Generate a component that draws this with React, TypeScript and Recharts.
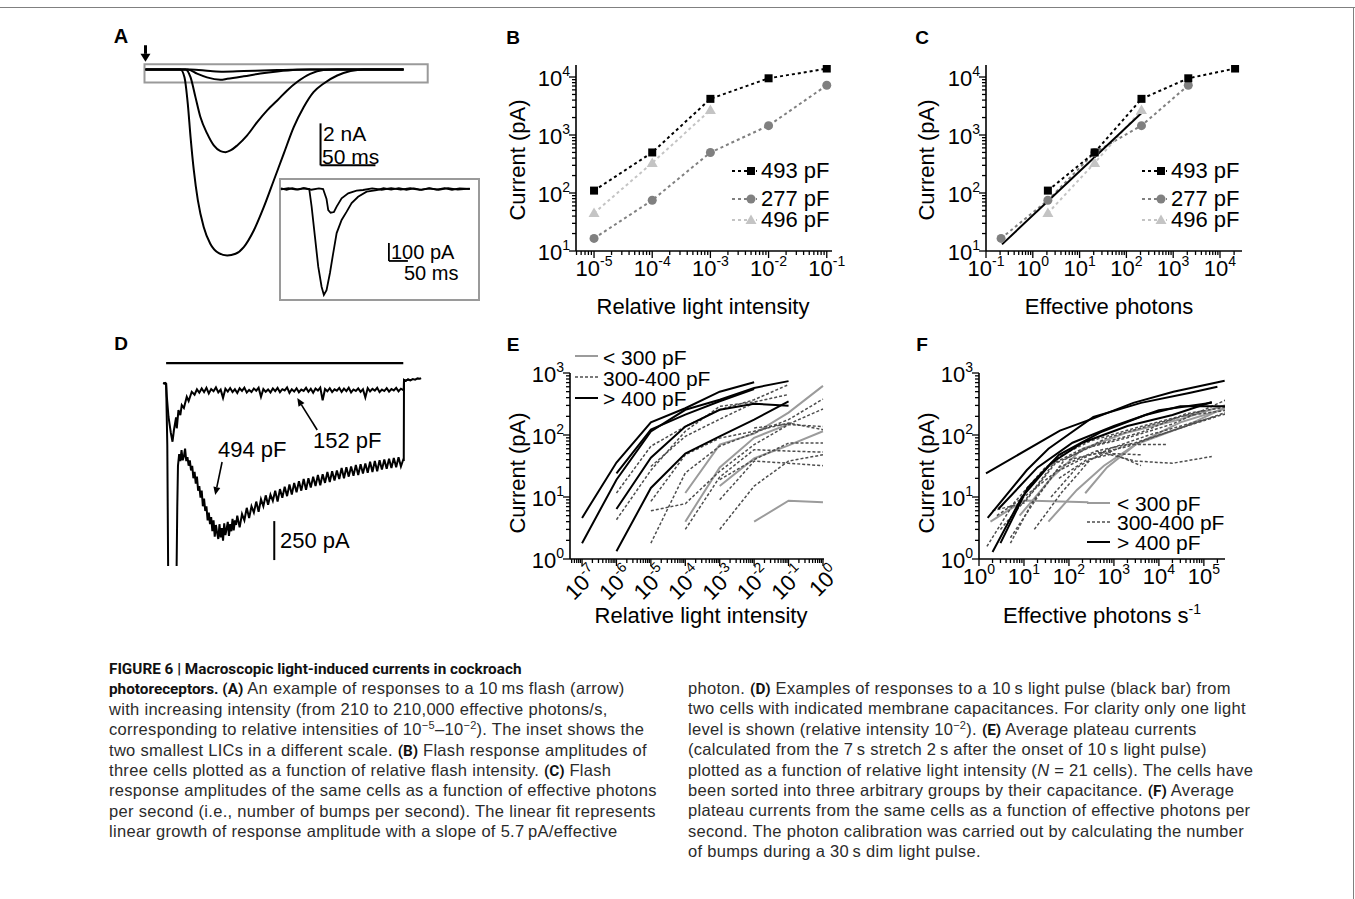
import React from "react";
import { LineChart, Line, XAxis, YAxis, ReferenceLine, ReferenceArea } from "recharts";

const FONT = "'Liberation Sans', Arial, Helvetica, sans-serif";
const CAP_FONT = "'Liberation Sans', Arial, sans-serif";
const CAP_BOLD = "Roboto, 'Liberation Sans', Arial, sans-serif";

// ---------- A: flash responses (ms, nA) ----------
const A_BIG = [[0, 0], [31.9, 0], [35.5, -0.37], [38.5, -1.63], [41, -3.2], [44, -4.8], [47.7, -6.24], [53, -7.5], [59, -8.3], [66.8, -8.75], [74.4, -8.86], [82, -8.78], [89.5, -8.46], [98.6, -7.67], [107.7, -6.56], [116.8, -5.29], [126, -4.0], [135, -2.75], [144, -1.8], [153, -1.08], [162, -0.68], [174.6, -0.29], [186.7, -0.08], [198.8, 0], [235, 0]];
const A_MED = [[0, 0], [36.4, 0], [41, -0.37], [45.5, -1.32], [50, -2.27], [56.2, -3.06], [62.2, -3.62], [68.3, -3.89], [72.9, -3.94], [77.4, -3.86], [83.5, -3.62], [92.6, -3.14], [101.7, -2.51], [110.8, -1.95], [120, -1.48], [129, -1.0], [138, -0.6], [150, -0.21], [162, -0.03], [174.6, 0], [235, 0]];
const A_SMALL = [[0, 0], [38.5, 0], [47, -0.2], [56, -0.38], [68.3, -0.49], [74.4, -0.45], [89.5, -0.33], [104.6, -0.2], [120, -0.1], [138, -0.02], [150, 0], [235, 0]];
const A_TINY = [[0, 0], [41, 0], [59, -0.08], [71, -0.11], [89.5, -0.08], [120, -0.03], [150, 0], [235, 0]];
// inset (ms, pA)
const INSET_BIG = [[0, 3], [15, -4], [30, 5], [45, -3], [60, 4], [74.5, 0], [80.8, -98], [89.5, -265], [98.2, -432], [107, -543], [113, -589], [120, -562], [129, -467], [137.6, -356], [146.6, -245], [159.7, -172], [173, -126], [186, -78], [203, -43], [225.5, -15], [252, -6], [270, 4], [290, -3], [310, 5], [330, -4], [350, 3], [370, -5], [390, 4], [410, -3], [430, 5], [450, -4], [470, 3], [497, 0]];
const INSET_SMALL = [[0, -2], [20, 4], [40, -3], [60, 5], [80, -4], [100, 3], [111, 0], [120, -56], [124.5, -117], [130.8, -132], [139.5, -128], [146.6, -98], [159.7, -52], [177, -24], [199, -9.5], [216, -5.6], [240, 3], [265, -4], [290, 5], [315, -3], [340, 4], [365, -5], [390, 3], [415, -4], [440, 5], [465, -3], [497, 2]];

// ---------- B / C: flash amplitudes ----------
const B_INTENSITY = [1e-5, 1e-4, 1e-3, 1e-2, 1e-1];
const B_493 = [110, 500, 4200, 9500, 14000];
const B_277 = [16.5, 75, 500, 1450, 7200];
const B_496 = [45, 330, 2700];
const C_PHOTONS_493 = [2.1, 21, 210, 2100, 21000];
const C_PHOTONS_277 = [0.21, 2.1, 21, 210, 2100];
const C_PHOTONS_496 = [2.1, 21, 210];
const C_FIT_X = [0.22, 240];
const C_FIT_Y = [13, 2650];

// ---------- D: 10 s pulse responses (s, pA) ----------
const D_152 = [[-0.12, 2], [-0.08, -3], [-0.03, 1], [0, -5], [0.03, -86], [0.1, -216], [0.2, -320], [0.27, -376], [0.33, -301], [0.42, -220], [0.45, -290], [0.52, -173], [0.6, -205], [0.66, -141], [0.75, -160], [0.87, -88], [0.95, -115], [1.08, -56], [1.2, -75],
  [1.3, -40], [1.4, -62], [1.5, -35], [1.6, -58], [1.7, -30], [1.8, -66], [1.9, -38], [2.0, -52], [2.1, -28], [2.2, -60], [2.3, -42], [2.4, -95], [2.5, -36], [2.6, -55], [2.7, -32], [2.8, -58], [2.9, -40], [3.0, -64], [3.1, -33], [3.2, -50], [3.3, -29], [3.4, -61], [3.5, -44], [3.6, -57], [3.7, -35], [3.8, -49], [3.9, -30], [4.0, -88], [4.1, -38], [4.2, -56], [4.3, -41], [4.4, -60], [4.5, -34], [4.6, -52], [4.7, -31], [4.8, -58], [4.9, -39], [5.0, -47], [5.1, -28], [5.2, -63], [5.3, -40], [5.4, -54], [5.5, -33], [5.6, -59], [5.7, -42], [5.8, -50], [5.9, -30], [6.0, -56], [6.1, -37], [6.2, -62], [6.3, -35], [6.4, -48], [6.5, -29], [6.6, -110], [6.7, -38], [6.8, -53], [6.9, -33], [7.0, -58], [7.1, -40], [7.2, -49], [7.3, -31], [7.4, -57], [7.5, -36], [7.6, -52], [7.7, -30], [7.8, -60], [7.9, -41], [8.0, -50], [8.1, -34], [8.2, -56], [8.3, -39], [8.4, -92], [8.5, -32], [8.6, -54], [8.7, -37], [8.8, -48], [8.9, -30], [9.0, -58], [9.1, -42], [9.2, -51], [9.3, -33], [9.4, -55], [9.5, -38], [9.6, -47], [9.7, -31], [9.8, -53], [9.9, -36], [10.0, -45],
  [10.02, -40], [10.03, 20], [10.1, 14], [10.2, 24], [10.3, 17], [10.4, 26], [10.5, 22], [10.6, 30], [10.7, 28], [10.75, 32]];
const D_494 = [[-0.12, 0], [-0.05, -3], [0, -5], [0.05, -400], [0.1, -1500], [0.42, -1500], [0.47, -800],
  [0.5, -530], [0.55, -455], [0.6, -500], [0.65, -430], [0.7, -495], [0.75, -470], [0.8, -420], [0.85, -500], [0.9, -475], [0.95, -530], [1.0, -495], [1.05, -560], [1.1, -530], [1.15, -610], [1.2, -570], [1.25, -645], [1.3, -600], [1.35, -690], [1.4, -660], [1.45, -735], [1.5, -690], [1.55, -790], [1.6, -740], [1.65, -820], [1.7, -790], [1.75, -880], [1.8, -830], [1.85, -905], [1.9, -860], [1.95, -950], [2.0, -880], [2.05, -985], [2.1, -910], [2.15, -960], [2.2, -1000], [2.25, -905], [2.3, -990], [2.35, -930], [2.4, -1010], [2.45, -900], [2.5, -975], [2.55, -935], [2.6, -890], [2.65, -980], [2.7, -905], [2.75, -950], [2.8, -870], [2.85, -945], [2.9, -880], [2.95, -910], [3.0, -850], [3.1, -925], [3.2, -840], [3.3, -880], [3.4, -800], [3.5, -865], [3.6, -790], [3.7, -830], [3.8, -760], [3.9, -825], [4.0, -745], [4.1, -790], [4.2, -720], [4.3, -780], [4.4, -715], [4.5, -755], [4.6, -690], [4.7, -760], [4.8, -680], [4.9, -735], [5.0, -665], [5.1, -725], [5.2, -650], [5.3, -715], [5.4, -640], [5.5, -700], [5.6, -630], [5.7, -690], [5.8, -615], [5.9, -685], [6.0, -610], [6.1, -670], [6.2, -600], [6.3, -660], [6.4, -590], [6.5, -655], [6.6, -585], [6.7, -640], [6.8, -570], [6.9, -635], [7.0, -565], [7.1, -625], [7.2, -560], [7.3, -615], [7.4, -545], [7.5, -610], [7.6, -540], [7.7, -600], [7.8, -535], [7.9, -595], [8.0, -525], [8.1, -590], [8.2, -520], [8.3, -580], [8.4, -515], [8.5, -575], [8.6, -505], [8.7, -570], [8.8, -500], [8.9, -565], [9.0, -495], [9.1, -555], [9.2, -490], [9.3, -550], [9.4, -485], [9.5, -545], [9.6, -480], [9.7, -540], [9.8, -475], [9.9, -535], [10.0, -490],
  [10.02, -500], [10.03, 20], [10.1, 16], [10.2, 22], [10.3, 18]];

// ---------- E: plateau current vs relative intensity ----------
const E_INTENSITY = [1e-7, 1e-6, 1e-5, 1e-4, 1e-3, 1e-2, 1e-1, 1];
const E_K1 = [4.6, 36, 160, 270, 500, 710, null, null];
const E_K2 = [1.8, 19, 114, 255, 370, 575, 740, null];
const E_K3 = [null, 24, 122, 213, 350, 550, null, null];
const E_K4 = [null, 6.4, 43, 137, 255, 320, 297, null];
const E_K5 = [null, 1.33, 14, 50, 95, 177, 350, null];
const E_G1 = [null, null, null, 11.6, 70, 105, 230, 620];
const E_G2 = [null, null, null, 4, 30, 90, 150, null];
const E_G3 = [null, null, null, null, 15, 42, 68, 115];
const E_G4 = [null, null, null, null, null, 4, 8.7, 8.2];
const E_D1 = [null, 11.6, 66, 137, 255, 370, 650, null];
const E_D2 = [null, 4.3, 27, 115, 290, 340, 450, null];
const E_D3 = [null, null, 8.5, 48, 89, 115, 156, 122];
const E_D4 = [null, null, 6, 7.8, 26, 70, 147, 137];
const E_D5 = [null, null, 1.8, 24.5, 66, 108, 177, 380];
const E_D6 = [null, null, null, 3, 21, 58, 55, 53];
const E_D7 = [null, null, null, null, 3, 15, 38, 48];
const E_D8 = [null, null, null, null, 9, 38, 35, 32];
const E_D9 = [null, null, null, null, 19, 40, 74, 74];
const E_D10 = [null, null, 31, 95, 180, 330, null, null];
const E_D11 = [null, null, null, null, null, 130, 150, 263];

// ---------- F: plateau current vs effective photons/s ----------
const F_K1 = [[1.43, 24], [63, 118], [350, 185], [2700, 330], [21000, 500], [290000, 750]];
const F_K2 = [[1.56, 4.6], [11.5, 27], [35, 60], [350, 195], [4000, 330], [50000, 480], [200000, 600]];
const F_K3 = [[2, 1.3], [9, 10], [40, 35], [200, 75], [2000, 140], [20000, 210], [150000, 340]];
const F_K4 = [[3, 1.8], [12, 14], [60, 48], [500, 110], [5000, 210], [30000, 290], [300000, 290]];
const F_K5 = [[2.7, 6.4], [20, 30], [120, 75], [1000, 140], [10000, 250], [150000, 330]];
const F_G1 = [[35, 4], [150, 13], [600, 32], [3000, 70], [30000, 160], [500000, 300]];
const F_G2 = [[230, 11.5], [700, 30], [3000, 70], [40000, 140], [500000, 330]];
const F_G3 = [[1.8, 4], [10, 8.8], [270, 8.2]];
const F_G4 = [[8, 5], [40, 20], [200, 60], [2000, 110], [30000, 180], [500000, 340]];
const F_D1 = [[1.5, 1.6], [6, 8], [30, 30], [200, 60], [2000, 90], [20000, 150], [500000, 430]];
const F_D2 = [[2, 6], [10, 8], [50, 35], [400, 70], [4000, 110], [40000, 220], [500000, 300]];
const F_D3 = [[5, 2.2], [20, 10], [80, 40], [700, 90], [8000, 150], [100000, 250]];
const F_D4 = [[3, 3], [15, 12], [60, 45], [300, 80], [3000, 130], [30000, 200], [500000, 260]];
const F_D5 = [[17, 3], [70, 12], [300, 40], [2000, 70], [15000, 70]];
const F_D6 = [[60, 20], [250, 40], [1000, 50], [4000, 48]];
const F_D7 = [[100, 40], [700, 55], [4000, 32]];
const F_D8 = [[400, 55], [3000, 38], [20000, 35], [150000, 45]];
const F_D9 = [[5, 1.8], [15, 8], [60, 30], [400, 55], [3000, 75], [30000, 130], [500000, 260]];
const F_D10 = [[2.5, 5], [10, 10], [50, 25], [300, 48], [2000, 65], [15000, 110], [200000, 200]];
const F_D11 = [[40, 10], [150, 30], [800, 60], [6000, 100], [60000, 160], [500000, 240]];

// ---------- caption ----------
const CAPTION_LEFT = [
  "**FIGURE 6 | Macroscopic light-induced currents in cockroach**",
  "**photoreceptors. (A)** An example of responses to a 10\u2009ms flash (arrow)",
  "with increasing intensity (from 210 to 210,000 effective photons/s,",
  "corresponding to relative intensities of 10^{\u22125}\u201310^{\u22122}). The inset shows the",
  "two smallest LICs in a different scale. **(B)** Flash response amplitudes of",
  "three cells plotted as a function of relative flash intensity. **(C)** Flash",
  "response amplitudes of the same cells as a function of effective photons",
  "per second (i.e., number of bumps per second). The linear fit represents",
  "linear growth of response amplitude with a slope of 5.7\u2009pA/effective",
];
const CAPTION_RIGHT = [
  "photon. **(D)** Examples of responses to a 10\u2009s light pulse (black bar) from",
  "two cells with indicated membrane capacitances. For clarity only one light",
  "level is shown (relative intensity 10^{\u22122}). **(E)** Average plateau currents",
  "(calculated from the 7\u2009s stretch 2\u2009s after the onset of 10\u2009s light pulse)",
  "plotted as a function of relative light intensity (__N__ = 21 cells). The cells have",
  "been sorted into three arbitrary groups by their capacitance. **(F)** Average",
  "plateau currents from the same cells as a function of effective photons per",
  "second. The photon calibration was carried out by calculating the number",
  "of bumps during a 30\u2009s dim light pulse.",
];

const toXY = (xs: number[], ys: (number | null)[]) =>
  xs.map((x, i) => ({ x, y: ys[i] })).filter((d) => d.y != null);
const pairs = (p: number[][]) => p.map(([x, y]) => ({ x, y }));
const trace = (p: number[][]) => p.map(([t, i]) => ({ t, i }));

function logTicks(lo: number, hi: number) {
  const out: number[] = [];
  for (let k = Math.floor(lo); k <= Math.ceil(hi); k++)
    for (let m = 1; m < 10; m++) {
      const v = m * Math.pow(10, k);
      const l = Math.log10(v);
      if (l >= lo - 1e-9 && l <= hi + 1e-9) out.push(v);
    }
  return out;
}
const isDecade = (v: number) => Math.abs(Math.log10(v) - Math.round(Math.log10(v))) < 1e-6;

const XTick = (p: any) => {
  const { x, y, payload, rot } = p;
  const v = payload.value;
  const major = isDecade(v);
  const e = Math.round(Math.log10(v));
  return (
    <g>
      <line x1={x} x2={x} y1={y} y2={y + (major ? 7 : 4)} stroke="#000" strokeWidth={1.3} />
      {major && (rot ? (
        <text x={x + 18} y={y + 16} transform={`rotate(-45 ${x + 18} ${y + 16})`} textAnchor="end" fontSize={22} fontFamily={FONT} fill="#000">
          10<tspan dy={-10} fontSize={14}>{e}</tspan>
        </text>
      ) : (
        <text x={x} y={y + 25} textAnchor="middle" fontSize={22} fontFamily={FONT} fill="#000">
          10<tspan dy={-10} fontSize={14}>{e}</tspan>
        </text>
      ))}
    </g>
  );
};

const YTick = (p: any) => {
  const { x, y, payload } = p;
  const v = payload.value;
  const major = isDecade(v);
  const e = Math.round(Math.log10(v));
  return (
    <g>
      <line x1={x} x2={x - (major ? 7 : 4)} y1={y} y2={y} stroke="#000" strokeWidth={1.3} />
      {major && (
        <text x={x - 6} y={y + 9} textAnchor="end" fontSize={22} fontFamily={FONT} fill="#000">
          10<tspan dy={-10} fontSize={14}>{e}</tspan>
        </text>
      )}
    </g>
  );
};

function LogPanel({ x, y, w, h, xd, yd, rot, children }: any) {
  const L = 80, T = 22, R = 30, B = 70;
  return (
    <div style={{ position: "absolute", left: x - L, top: y - T }}>
      <LineChart width={w + L + R} height={h + T + B} margin={{ top: T, right: R, bottom: 0, left: 0 }}>
        <XAxis type="number" dataKey="x" scale="log" domain={[Math.pow(10, xd[0]), Math.pow(10, xd[1])]} allowDataOverflow
          ticks={logTicks(xd[0], xd[1])} interval={0} tick={<XTick rot={rot} />} tickLine={false} tickSize={0} tickMargin={0}
          height={B} axisLine={{ stroke: "#000", strokeWidth: 1.6 }} />
        <YAxis type="number" dataKey="y" scale="log" domain={[Math.pow(10, yd[0]), Math.pow(10, yd[1])]} allowDataOverflow
          ticks={logTicks(yd[0], yd[1])} interval={0} tick={<YTick />} tickLine={false} tickSize={0} tickMargin={0}
          width={L} axisLine={{ stroke: "#000", strokeWidth: 1.6 }} />
        {children}
      </LineChart>
    </div>
  );
}

const Square = (p: any) => <rect key={`s${p.index}`} x={p.cx - 4} y={p.cy - 4} width={8} height={8} fill="#000" />;
const Tri = (p: any) => <polygon key={`t${p.index}`} points={`${p.cx},${p.cy - 5.5} ${p.cx + 5.5},${p.cy + 4} ${p.cx - 5.5},${p.cy + 4}`} fill="#c4c4c4" />;
const Circ = (p: any) => <circle key={`c${p.index}`} cx={p.cx} cy={p.cy} r={4.5} fill="#808080" />;

const ArrowShape = (p: any) => {
  const { x1, y1, x2, y2, strokeWidth = 2, head = 8, half = 4 } = p;
  const stroke = "#000";
  const dx = x2 - x1, dy = y2 - y1;
  const len = Math.sqrt(dx * dx + dy * dy) || 1;
  const ux = dx / len, uy = dy / len;
  const bx = x2 - ux * head, by = y2 - uy * head;
  return (
    <g>
      <line x1={x1} y1={y1} x2={bx} y2={by} stroke={stroke} strokeWidth={strokeWidth} />
      <polygon points={`${x2},${y2} ${bx - uy * half},${by + ux * half} ${bx + uy * half},${by - ux * half}`} fill={stroke} />
    </g>
  );
};

function Txt({ x, y, size = 22, align = "left", rotate = false, bold = false, children }: any) {
  const w = 400;
  const left = align === "left" ? x : align === "center" ? x - w / 2 : x - w;
  return (
    <div style={{ position: "absolute", left, top: y - size / 2, width: w, height: size, lineHeight: `${size}px`, fontSize: size,
      fontFamily: FONT, fontWeight: bold ? 700 : 400, textAlign: align, whiteSpace: "nowrap", color: "#000",
      transform: rotate ? "rotate(-90deg)" : undefined, transformOrigin: "center" }}>
      {children}
    </div>
  );
}

const Sup = ({ children }: any) => (
  <span style={{ fontSize: 14, position: "relative", top: -9 }}>{children}</span>
);

function LegendSample({ x, y, w, stroke, width = 2, dash, marker }: any) {
  return (
    <svg style={{ position: "absolute", left: x, top: y - 8 }} width={w} height={16}>
      <line x1={0} x2={w} y1={8} y2={8} stroke={stroke} strokeWidth={width} strokeDasharray={dash} />
      {marker === "square" && <rect x={w - 10} y={4} width={8} height={8} fill="#000" />}
      {marker === "circle" && <circle cx={w - 6} cy={8} r={4.5} fill="#808080" />}
      {marker === "tri" && <polygon points={`${w - 6},2.5 ${w - 0.5},12 ${w - 11.5},12`} fill="#c4c4c4" />}
    </svg>
  );
}

function CaptionLine({ x, y, text }: any) {
  const parts = text.split(/(\*\*[^*]+\*\*|\^\{[^}]+\}|__[^_]+__)/).filter((s: string) => s.length);
  return (
    <div style={{ position: "absolute", left: x, top: y - 10, height: 20, lineHeight: "20px", fontSize: 16.5, letterSpacing: 0.3,
      fontFamily: CAP_FONT, color: "#2b2b2b", whiteSpace: "pre" }}>
      {parts.map((s: string, i: number) => {
        if (s.startsWith("**")) return <b key={i} style={{ fontFamily: CAP_BOLD, fontSize: 15.3, letterSpacing: 0, color: "#111" }}>{s.slice(2, -2)}</b>;
        if (s.startsWith("^{")) return <span key={i} style={{ fontSize: 11, position: "relative", top: -6 }}>{s.slice(2, -1)}</span>;
        if (s.startsWith("__")) return <i key={i}>{s.slice(2, -2)}</i>;
        return <span key={i}>{s}</span>;
      })}
    </div>
  );
}

const BLACK = { stroke: "#000", strokeWidth: 2 };
const GRAY = { stroke: "#9b9b9b", strokeWidth: 2 };
const DASH = { stroke: "#4d4d4d", strokeWidth: 1.5, strokeDasharray: "3 2" };

export default function App() {
  const eBlack = [E_K1, E_K2, E_K3, E_K4, E_K5];
  const eGray = [E_G1, E_G2, E_G3, E_G4];
  const eDash = [E_D1, E_D2, E_D3, E_D4, E_D5, E_D6, E_D7, E_D8, E_D9, E_D10, E_D11];
  const fBlack = [F_K1, F_K2, F_K3, F_K4, F_K5];
  const fGray = [F_G1, F_G2, F_G3, F_G4];
  const fDash = [F_D1, F_D2, F_D3, F_D4, F_D5, F_D6, F_D7, F_D8, F_D9, F_D10, F_D11];

  return (
    <div style={{ position: "absolute", left: 0, top: 0, width: 1355, height: 899, background: "#fff", overflow: "hidden" }}>
      <div style={{ position: "absolute", left: 0, top: 7, width: 1355, height: 1, background: "#808080" }} />
      <div style={{ position: "absolute", left: 1353, top: 7, width: 1, height: 892, background: "#808080" }} />

      {/* panel labels */}
      <Txt x={121} y={36} size={20} align="center" bold>A</Txt>
      <Txt x={513} y={37} size={19} align="center" bold>B</Txt>
      <Txt x={922} y={37} size={19} align="center" bold>C</Txt>
      <Txt x={121} y={343} size={19} align="center" bold>D</Txt>
      <Txt x={513} y={344} size={19} align="center" bold>E</Txt>
      <Txt x={922} y={344} size={19} align="center" bold>F</Txt>

      {/* ---------- A ---------- */}
      <div style={{ position: "absolute", left: 139.5, top: 39.6 }}>
        <LineChart width={291} height={220.5} margin={{ top: 0, right: 0, bottom: 0, left: 0 }}>
          <XAxis type="number" dataKey="t" domain={[-5, 260]} hide allowDataOverflow />
          <YAxis type="number" dataKey="i" domain={[-9.1, 1.4]} hide allowDataOverflow />
          <ReferenceArea x1={-0.9} x2={257} y1={0.24} y2={-0.62} fill="none" stroke="#9a9a9a" strokeWidth={2} ifOverflow="visible" />
          {[A_BIG, A_MED, A_SMALL, A_TINY].map((d, k) => (
            <Line key={k} data={trace(d)} dataKey="i" type="monotone" dot={false} activeDot={false} stroke="#000" strokeWidth={2} isAnimationActive={false} />
          ))}
          <ReferenceLine segment={[{ x: 0, y: 1.15 }, { x: 0, y: 0.36 }]} ifOverflow="visible" stroke="#000"
            shape={(p: any) => <ArrowShape {...p} strokeWidth={3} head={8} half={5} />} />
          <ReferenceLine segment={[{ x: 159.4, y: -2.57 }, { x: 159.4, y: -4.57 }]} stroke="#000" strokeWidth={2} ifOverflow="visible" />
          <ReferenceLine segment={[{ x: 159.4, y: -4.57 }, { x: 209.4, y: -4.57 }]} stroke="#000" strokeWidth={2} ifOverflow="visible" />
        </LineChart>
      </div>
      <Txt x={323} y={133} size={21}>2 nA</Txt>
      <Txt x={322} y={156} size={21}>50 ms</Txt>
      <div style={{ position: "absolute", left: 279, top: 178, width: 201, height: 123, border: "2px solid #9a9a9a", boxSizing: "border-box" }} />
      <div style={{ position: "absolute", left: 279, top: 180 }}>
        <LineChart width={200} height={120} margin={{ top: 0, right: 0, bottom: 0, left: 0 }}>
          <XAxis type="number" dataKey="t" domain={[-5, 521]} hide allowDataOverflow />
          <YAxis type="number" dataKey="i" domain={[-617, 50]} hide allowDataOverflow />
          <Line data={trace(INSET_BIG)} dataKey="i" dot={false} activeDot={false} stroke="#000" strokeWidth={1.8} isAnimationActive={false} />
          <Line data={trace(INSET_SMALL)} dataKey="i" dot={false} activeDot={false} stroke="#000" strokeWidth={1.8} isAnimationActive={false} />
          <ReferenceLine segment={[{ x: 284, y: -300 }, { x: 284, y: -400 }]} stroke="#000" strokeWidth={1.8} />
          <ReferenceLine segment={[{ x: 284, y: -400 }, { x: 334, y: -400 }]} stroke="#000" strokeWidth={1.8} />
        </LineChart>
      </div>
      <Txt x={391} y={252} size={20}>100 pA</Txt>
      <Txt x={404} y={273} size={20}>50 ms</Txt>

      {/* ---------- B ---------- */}
      <LogPanel x={576} y={65} w={256} h={186} xd={[-5.31, -0.91]} yd={[1, 4.207]}>
        <Line data={toXY(B_INTENSITY, B_277)} dataKey="y" stroke="#808080" strokeWidth={2} strokeDasharray="3 3" dot={Circ} activeDot={false} isAnimationActive={false} />
        <Line data={toXY(B_INTENSITY, B_496)} dataKey="y" stroke="#c4c4c4" strokeWidth={2} strokeDasharray="3 3" dot={Tri} activeDot={false} isAnimationActive={false} />
        <Line data={toXY(B_INTENSITY, B_493)} dataKey="y" stroke="#000" strokeWidth={2} strokeDasharray="3 3" dot={Square} activeDot={false} isAnimationActive={false} />
      </LogPanel>
      <Txt x={703} y={307} align="center">Relative light intensity</Txt>
      <Txt x={518} y={160} align="center" rotate>Current (pA)</Txt>
      <LegendSample x={732} y={171} w={25} stroke="#000" dash="3 3" marker="square" />
      <LegendSample x={732} y={199} w={25} stroke="#808080" dash="3 3" marker="circle" />
      <LegendSample x={732} y={220} w={25} stroke="#c4c4c4" dash="3 3" marker="tri" />
      <Txt x={761} y={171}>493 pF</Txt>
      <Txt x={761} y={199}>277 pF</Txt>
      <Txt x={761} y={220}>496 pF</Txt>

      {/* ---------- C ---------- */}
      <LogPanel x={986} y={65} w={256} h={186} xd={[-1, 4.47]} yd={[1, 4.207]}>
        <Line data={toXY(C_PHOTONS_277, B_277)} dataKey="y" stroke="#808080" strokeWidth={2} strokeDasharray="3 3" dot={Circ} activeDot={false} isAnimationActive={false} />
        <Line data={toXY(C_PHOTONS_496, B_496)} dataKey="y" stroke="#c4c4c4" strokeWidth={2} strokeDasharray="3 3" dot={Tri} activeDot={false} isAnimationActive={false} />
        <Line data={toXY(C_PHOTONS_493, B_493)} dataKey="y" stroke="#000" strokeWidth={2} strokeDasharray="3 3" dot={Square} activeDot={false} isAnimationActive={false} />
        <Line data={toXY(C_FIT_X, C_FIT_Y)} dataKey="y" stroke="#000" strokeWidth={2} dot={false} activeDot={false} isAnimationActive={false} />
      </LogPanel>
      <Txt x={1109} y={307} align="center">Effective photons</Txt>
      <Txt x={927} y={160} align="center" rotate>Current (pA)</Txt>
      <LegendSample x={1142} y={171} w={25} stroke="#000" dash="3 3" marker="square" />
      <LegendSample x={1142} y={199} w={25} stroke="#808080" dash="3 3" marker="circle" />
      <LegendSample x={1142} y={220} w={25} stroke="#c4c4c4" dash="3 3" marker="tri" />
      <Txt x={1171} y={171}>493 pF</Txt>
      <Txt x={1171} y={199}>277 pF</Txt>
      <Txt x={1171} y={220}>496 pF</Txt>

      {/* ---------- D ---------- */}
      <div style={{ position: "absolute", left: 158.9, top: 355 }}>
        <LineChart width={268} height={211} margin={{ top: 0, right: 0, bottom: 0, left: 0 }}>
          <XAxis type="number" dataKey="t" domain={[-0.3, 11.0]} hide allowDataOverflow />
          <YAxis type="number" dataKey="i" domain={[-1173, 180]} hide allowDataOverflow />
          <Line data={trace(D_494)} dataKey="i" dot={false} activeDot={false} stroke="#000" strokeWidth={2} isAnimationActive={false} />
          <Line data={trace(D_152)} dataKey="i" dot={false} activeDot={false} stroke="#000" strokeWidth={2} isAnimationActive={false} />
          <ReferenceLine segment={[{ x: 0, y: 128 }, { x: 10, y: 128 }]} stroke="#000" strokeWidth={2.2} />
          <ReferenceLine segment={[{ x: 4.56, y: -885 }, { x: 4.56, y: -1135 }]} stroke="#000" strokeWidth={2} />
          <ReferenceLine segment={[{ x: 6.37, y: -301 }, { x: 5.53, y: -96 }]} stroke="#000"
            shape={(p: any) => <ArrowShape {...p} strokeWidth={1.6} head={8} half={3.5} />} />
          <ReferenceLine segment={[{ x: 2.36, y: -506 }, { x: 2.07, y: -718 }]} stroke="#000"
            shape={(p: any) => <ArrowShape {...p} strokeWidth={1.6} head={8} half={3.5} />} />
        </LineChart>
      </div>
      <Txt x={313} y={441}>152 pF</Txt>
      <Txt x={218} y={450}>494 pF</Txt>
      <Txt x={280} y={541}>250 pA</Txt>

      {/* ---------- E ---------- */}
      <LogPanel x={570} y={373} w={254} h={186} xd={[-7.35, 0.03]} yd={[0, 3]} rot>
        {eGray.map((d, k) => (
          <Line key={`g${k}`} data={toXY(E_INTENSITY, d)} dataKey="y" {...GRAY} dot={false} activeDot={false} isAnimationActive={false} />
        ))}
        {eDash.map((d, k) => (
          <Line key={`d${k}`} data={toXY(E_INTENSITY, d)} dataKey="y" {...DASH} dot={false} activeDot={false} isAnimationActive={false} />
        ))}
        {eBlack.map((d, k) => (
          <Line key={`k${k}`} data={toXY(E_INTENSITY, d)} dataKey="y" {...BLACK} dot={false} activeDot={false} isAnimationActive={false} />
        ))}
      </LogPanel>
      <Txt x={701} y={616} align="center">Relative light intensity</Txt>
      <Txt x={518} y={473} align="center" rotate>Current (pA)</Txt>
      <LegendSample x={575} y={356} w={23} stroke="#9b9b9b" />
      <LegendSample x={575} y={377} w={23} stroke="#4d4d4d" width={1.5} dash="3 2" />
      <LegendSample x={575} y={398} w={23} stroke="#000" />
      <Txt x={603} y={357} size={21}>&lt; 300 pF</Txt>
      <Txt x={603} y={378} size={21}>300-400 pF</Txt>
      <Txt x={603} y={398} size={21}>&gt; 400 pF</Txt>

      {/* ---------- F ---------- */}
      <LogPanel x={979} y={373} w={246} h={186} xd={[0, 5.47]} yd={[0, 3]}>
        {fGray.map((d, k) => (
          <Line key={`g${k}`} data={pairs(d)} dataKey="y" {...GRAY} dot={false} activeDot={false} isAnimationActive={false} />
        ))}
        {fDash.map((d, k) => (
          <Line key={`d${k}`} data={pairs(d)} dataKey="y" {...DASH} dot={false} activeDot={false} isAnimationActive={false} />
        ))}
        {fBlack.map((d, k) => (
          <Line key={`k${k}`} data={pairs(d)} dataKey="y" {...BLACK} dot={false} activeDot={false} isAnimationActive={false} />
        ))}
      </LogPanel>
      <Txt x={1102} y={616} align="center">Effective photons s<Sup>-1</Sup></Txt>
      <Txt x={927} y={473} align="center" rotate>Current (pA)</Txt>
      <LegendSample x={1087} y={503} w={23} stroke="#9b9b9b" />
      <LegendSample x={1087} y={522} w={23} stroke="#4d4d4d" width={1.5} dash="3 2" />
      <LegendSample x={1087} y={542} w={23} stroke="#000" />
      <Txt x={1117} y={503} size={21}>&lt; 300 pF</Txt>
      <Txt x={1117} y={522} size={21}>300-400 pF</Txt>
      <Txt x={1117} y={542} size={21}>&gt; 400 pF</Txt>

      {/* ---------- caption ---------- */}
      {CAPTION_LEFT.map((s, i) => (
        <CaptionLine key={`l${i}`} x={109} y={668 + i * 20.4} text={s} />
      ))}
      {CAPTION_RIGHT.map((s, i) => (
        <CaptionLine key={`r${i}`} x={688} y={688 + i * 20.4} text={s} />
      ))}
    </div>
  );
}
